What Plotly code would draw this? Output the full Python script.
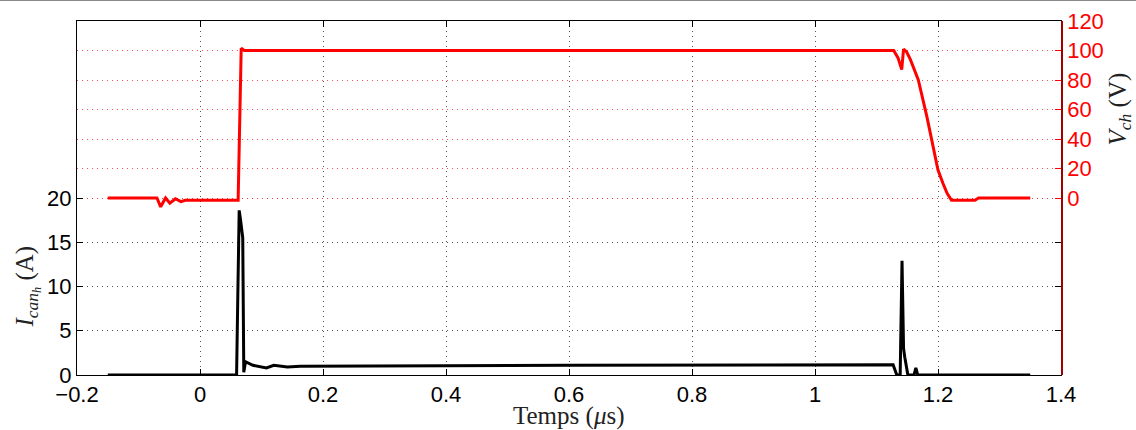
import plotly.graph_objects as go

# Time axis (µs)
t_v = [-0.15, -0.07, -0.064, -0.056, -0.049, -0.04, -0.031, -0.024, 0.062, 0.0645, 0.067,
       0.072, 1.128, 1.135, 1.141, 1.144, 1.149, 1.155, 1.16, 1.168, 1.182, 1.192, 1.2,
       1.208, 1.215, 1.222, 1.26, 1.266, 1.35]
v_ch = [0, 0, -6, 0, -3.5, -0.5, -2.5, -1.5, -1.5, 50, 101.5, 100, 100, 95, 87, 101, 99,
        94, 89, 80, 55, 35, 19, 10, 3, -1.5, -1.5, 0, 0]

t_i = [-0.15, 0.0595, 0.0615, 0.0637, 0.066, 0.0695, 0.0712, 0.074, 0.086, 0.098, 0.108,
       0.12, 0.142, 0.163, 0.2, 0.4, 0.6, 0.8, 1.0, 1.127, 1.133, 1.1385, 1.1415, 1.144,
       1.146, 1.151, 1.161, 1.164, 1.167, 1.35]
i_can = [0, 0, 9, 18.6, 17.5, 15.5, 0.3, 1.5, 1.1, 0.9, 0.8, 1.1, 0.9, 1.0, 1.0, 1.05,
         1.1, 1.1, 1.15, 1.15, 0, 0, 12.9, 3, 2.0, 0, 0, 0.8, 0, 0]

x_ticks = [-0.2, 0, 0.2, 0.4, 0.6, 0.8, 1, 1.2, 1.4]
x_ticklabels = ["\u22120.2", "0", "0.2", "0.4", "0.6", "0.8", "1", "1.2", "1.4"]
i_ticks = [0, 5, 10, 15, 20]
v_ticks = [0, 20, 40, 60, 80, 100, 120]

SANS = "Liberation Sans, Arial, sans-serif"
SERIF = "Liberation Serif, Times New Roman, serif"

fig = go.Figure()
fig.add_trace(go.Scatter(x=t_i, y=i_can, mode="lines", yaxis="y",
                         line=dict(color="black", width=3), showlegend=False))
fig.add_trace(go.Scatter(x=t_v, y=v_ch, mode="lines", yaxis="y2",
                         line=dict(color="#ff0000", width=3), showlegend=False))

fig.update_layout(
    width=1136, height=430,
    margin=dict(l=77, r=75, t=21, b=55, autoexpand=False),
    paper_bgcolor="white", plot_bgcolor="white",
    showlegend=False,
    xaxis=dict(range=[-0.2, 1.4], tickvals=x_ticks, ticktext=x_ticklabels,
               automargin=False,
               ticks="inside", ticklen=6, tickcolor="black",
               showline=True, linecolor="black", linewidth=1, mirror="ticks",
               showgrid=True, gridcolor="#555555", griddash="1px,4px", gridwidth=1,
               zeroline=False, tickfont=dict(family=SANS, size=22, color="black")),
    yaxis=dict(range=[0, 40], tickvals=i_ticks, ticks="inside", ticklen=6,
               automargin=False,
               tickcolor="black", showline=True, linecolor="black", linewidth=1,
               mirror="ticks", showgrid=True, gridcolor="#555555",
               griddash="1px,4px", gridwidth=1, zeroline=False,
               tickfont=dict(family=SANS, size=22, color="black")),
    yaxis2=dict(range=[-120, 120], tickvals=v_ticks, overlaying="y", side="right",
                automargin=False,
                ticks="inside", ticklen=6, tickcolor="#ff0000", showline=True,
                linecolor="#a00000", linewidth=1.5, showgrid=True,
                gridcolor="rgba(255,60,60,0.9)", griddash="1px,4px", gridwidth=1,
                zeroline=False, tickfont=dict(family=SANS, size=22, color="#ff0000")),
    annotations=[
        dict(text="Temps (<i>\u03bc</i>s)", xref="paper", yref="paper",
             x=0.5, y=-0.115, xanchor="center", yanchor="middle", showarrow=False,
             font=dict(family=SERIF, size=25, color="#222222")),
        dict(text="<i>I</i><sub><i>can</i><sub><i>h</i></sub></sub> (A)",
             xref="paper", yref="paper", x=-50 / 984, y=0.25, textangle=-90,
             xanchor="center", yanchor="middle", showarrow=False,
             font=dict(family=SERIF, size=25, color="#222222")),
        dict(text="<i>V</i><sub><i>ch</i></sub> (V)",
             xref="paper", yref="paper", x=1 + 58 / 984, y=0.75, textangle=-90,
             xanchor="center", yanchor="middle", showarrow=False,
             font=dict(family=SERIF, size=25, color="#222222")),
    ],
    shapes=[
        dict(type="line", xref="paper", yref="paper", x0=-77 / 984, x1=1 + 75 / 984,
             y0=1 + 20.5 / 354, y1=1 + 20.5 / 354, line=dict(color="#888888", width=1)),
    ],
)

fig.write_html("out.html", config={"displayModeBar": False},
               post_script="document.body.style.margin='0';document.body.style.overflow='hidden';")
